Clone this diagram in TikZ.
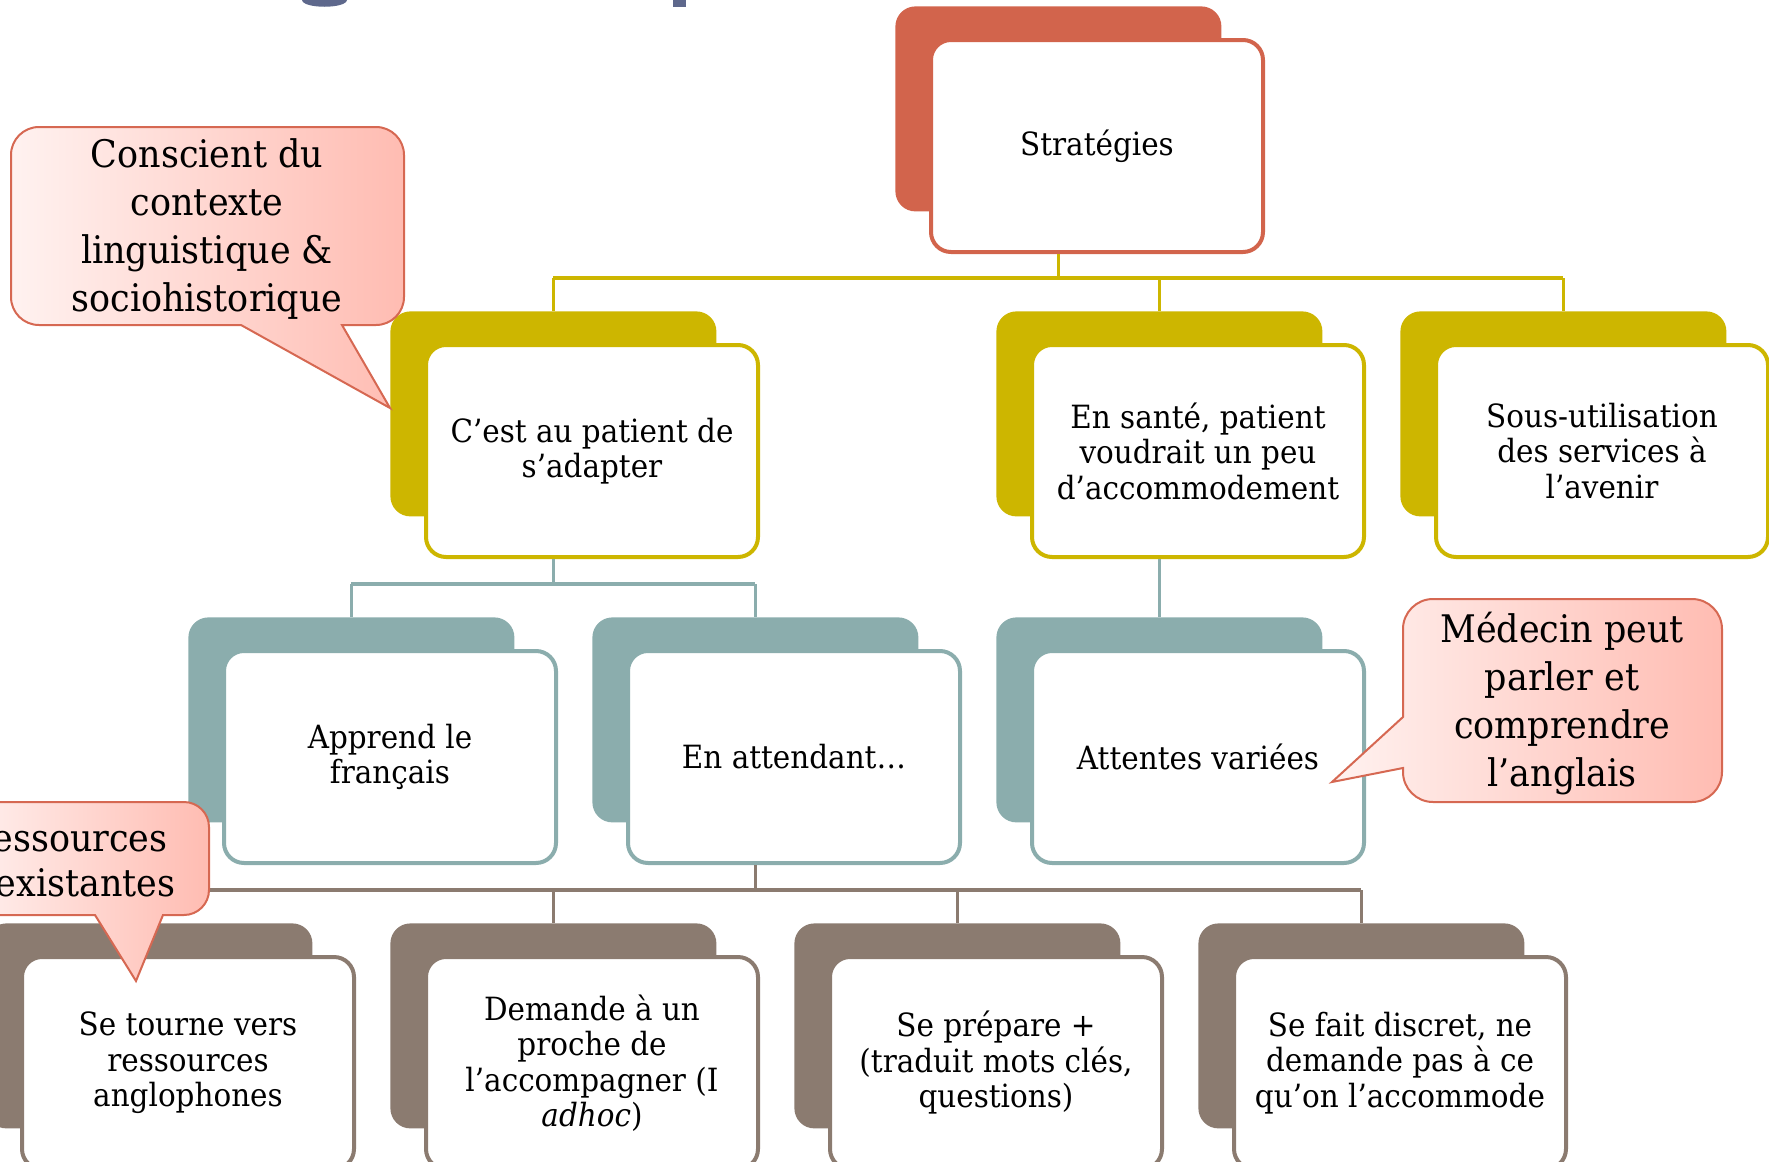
\documentclass[tikz,border=0pt]{standalone}
\usepackage{fontspec}
\setmainfont[FakeStretch=0.92]{DejaVu Serif}
\definecolor{stratC}{RGB}{210,100,76}
\definecolor{yelC}{RGB}{205,182,0}
\definecolor{tealC}{RGB}{139,173,173}
\definecolor{brnC}{RGB}{139,123,112}
\definecolor{callB}{RGB}{214,104,82}
\definecolor{callL}{RGB}{255,242,240}
\definecolor{callR}{RGB}{255,188,178}
\definecolor{titleC}{RGB}{94,104,140}
\newcommand\boxfnt{\fontsize{16pt}{17.75pt}\selectfont}
\newcommand\calfnt{\fontsize{19pt}{24pt}\selectfont}
\tikzset{
  backbox/.style={rectangle, rounded corners=10pt, minimum width=163pt, minimum height=102.5pt, inner sep=0pt, anchor=north west},
  frontbox/.style={rectangle, rounded corners=10pt, minimum width=166pt, minimum height=106pt, inner sep=2pt, anchor=north west, fill=white, line width=2pt, align=center, font=\boxfnt},
  link/.style={line width=1.9pt},
  callout/.style={draw=callB, line width=1pt, left color=callL, right color=callR},
  caltext/.style={align=center, font=\calfnt, inner sep=0pt}
}
\newcommand\levelbox[5]{%
  \node[backbox, fill=#2] (#1-b) at (#3,#4) {};
  \node[frontbox, draw=#2] (#1-f) at (#3+34,#4+32) {#5};
}
\begin{document}
\begin{tikzpicture}[x=0.5pt, y=-0.5pt]
\useasboundingbox (0,0) rectangle (1769,1162);
\clip (0,0) rectangle (1769,1162);
% title fragments
\fill[titleC] (302,0) .. controls (303,9) and (346,9) .. (347,0) -- cycle;
\fill[titleC] (673,0) rectangle (686,7);
% bus coordinates
\coordinate (bus1) at (0,278);
\coordinate (bus2) at (0,584);
\coordinate (bus3) at (0,890);
% boxes
\levelbox{S}{stratC}{895}{6}{Stratégies}
\levelbox{A}{yelC}{390}{311}{C’est au patient de\\s’adapter}
\levelbox{B}{yelC}{996}{311}{En santé, patient\\voudrait un peu\\d’accommodement}
\levelbox{C}{yelC}{1400}{311}{Sous-utilisation\\des services à\\l’avenir}
\levelbox{D}{tealC}{188}{617}{Apprend le\\français}
\levelbox{E}{tealC}{592}{617}{En attendant…}
\levelbox{F}{tealC}{996}{617}{Attentes variées}
\levelbox{G}{brnC}{-14}{923}{Se tourne vers\\ressources\\anglophones}
\levelbox{H}{brnC}{390}{923}{Demande à un\\proche de\\l’accompagner (I\\\textit{adhoc})}
\levelbox{I}{brnC}{794}{923}{Se prépare +\\(traduit mots clés,\\questions)}
\levelbox{J}{brnC}{1198}{923}{Se fait discret, ne\\demande pas à ce\\qu’on l’accommode}
% connectors level 1
\draw[link, yelC] (S-b.north |- S-f.south) -- (S-b.north |- bus1);
\draw[link, yelC] (A-b.north |- bus1) -- (C-b.north |- bus1);
\foreach \n in {A,B,C} \draw[link, yelC] (\n-b.north |- bus1) -- (\n-b.north);
% level 2
\draw[link, tealC] (A-b.north |- A-f.south) -- (A-b.north |- bus2);
\draw[link, tealC] (D-b.north |- bus2) -- (E-b.north |- bus2);
\foreach \n in {D,E} \draw[link, tealC] (\n-b.north |- bus2) -- (\n-b.north);
\draw[link, tealC] (B-b.north |- B-f.south) -- (F-b.north);
% level 3
\draw[link, brnC] (E-b.north |- E-f.south) -- (E-b.north |- bus3);
\draw[link, brnC] (G-b.north |- bus3) -- (J-b.north |- bus3);
\foreach \n in {G,H,I,J} \draw[link, brnC] (\n-b.north |- bus3) -- (\n-b.north);
% callouts
\draw[callout] (39,127) -- (376,127) .. controls (391.5,127) and (404,139.5) .. (404,155) -- (404,297) .. controls (404,312.5) and (391.5,325) .. (376,325) -- (342,325) -- (390,408) -- (241,325) -- (39,325) .. controls (23.5,325) and (11,312.5) .. (11,297) -- (11,155) .. controls (11,139.5) and (23.5,127) .. (39,127) -- cycle;
\node[caltext] (c1) at (207,229) {Conscient du\\contexte\\linguistique \&\\sociohistorique};
\draw[callout] (1433,599) -- (1692,599) .. controls (1708.5,599) and (1722,612.5) .. (1722,629) -- (1722,772) .. controls (1722,788.5) and (1708.5,802) .. (1692,802) -- (1433,802) .. controls (1416.5,802) and (1403,788.5) .. (1403,772) -- (1403,768) -- (1332,782) -- (1403,717) -- (1403,629) .. controls (1403,612.5) and (1416.5,599) .. (1433,599) -- cycle;
\node[caltext] (c2) at (1562,704) {Médecin peut\\parler et\\comprendre\\l’anglais};
\draw[callout] (-15,802) -- (184,802) .. controls (197.8,802) and (209,813.2) .. (209,827) -- (209,890) .. controls (209,903.8) and (197.8,915) .. (184,915) -- (163,915) -- (136,981) -- (95,915) -- (-15,915) .. controls (-28.8,915) and (-40,903.8) .. (-40,890) -- (-40,827) .. controls (-40,813.2) and (-28.8,802) .. (-15,802) -- cycle;
\node[caltext, align=right, anchor=east, font={\fontsize{19pt}{22.5pt}\selectfont}] (c3) at (176,860) {Ressources\hspace*{4pt}\\existantes};
\end{tikzpicture}
\end{document}
